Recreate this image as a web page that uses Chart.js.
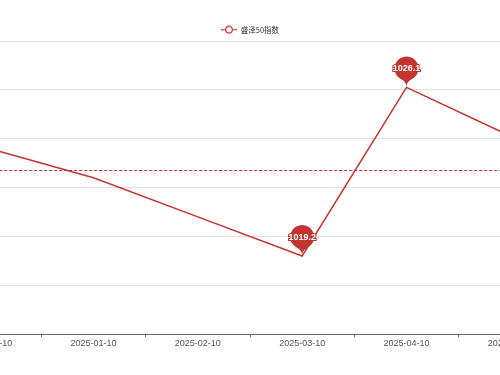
<!DOCTYPE html>
<html>
<head>
<meta charset="utf-8">
<script src="https://cdn.jsdelivr.net/npm/chart.js@4"></script>
<style>
  body { margin: 0; background: #fff; }
  #wrap { position: relative; width: 500px; height: 375px; overflow: hidden; }
  #box { position: absolute; left: -63px; top: 0; width: 626px; height: 375px; }
</style>
</head>
<body>
<div id="wrap"><div id="box"><canvas id="myChart"></canvas></div></div>
<script>
// data
var dates = ['2024-12-10', '2025-01-10', '2025-02-10', '2025-03-10', '2025-04-10', '2025-05-10'];
var values = [1023.6, 1022.4, 1020.8, 1019.2, 1026.1, 1024.1];
var seriesName = '盛泽50指数';
var yMin = 1016, yMax = 1028, yStep = 2;

var red = '#c23531';

// legend icon: line with hollow circle
var icon = document.createElement('canvas');
icon.width = 16; icon.height = 9;
var ic = icon.getContext('2d');
ic.strokeStyle = red;
ic.lineWidth = 1.2;
ic.beginPath(); ic.moveTo(0, 4.5); ic.lineTo(16, 4.5); ic.stroke();
ic.fillStyle = '#fff';
ic.beginPath(); ic.arc(8, 4.5, 3.3, 0, Math.PI * 2); ic.fill(); ic.stroke();

function drawPin(ctx, x, y, text) {
    // echarts-like pin, tip at (x, y)
    var r = 12, h = 36.8;
    var dy = r * r / (h - r);
    var cy = y - h + r + dy;
    var angle = Math.asin(dy / r);
    var dx = Math.cos(angle) * r;
    var tanX = Math.sin(angle), tanY = Math.cos(angle);
    var cpLen = r * 0.6, cpLen2 = r * 0.7;
    ctx.save();
    ctx.beginPath();
    ctx.moveTo(x - dx, cy + dy);
    ctx.arc(x, cy, r, Math.PI - angle, Math.PI * 2 + angle);
    ctx.bezierCurveTo(x + dx - tanX * cpLen, cy + dy + tanY * cpLen, x, y - cpLen2, x, y);
    ctx.bezierCurveTo(x, y - cpLen2, x - dx + tanX * cpLen, cy + dy + tanY * cpLen, x - dx, cy + dy);
    ctx.closePath();
    ctx.fillStyle = red;
    ctx.fill();
    ctx.font = 'bold 9px "Liberation Sans", sans-serif';
    ctx.textAlign = 'center';
    ctx.textBaseline = 'middle';
    ctx.lineWidth = 2;
    ctx.strokeStyle = red;
    ctx.strokeText(text, x, cy);
    ctx.fillStyle = '#fff';
    ctx.fillText(text, x, cy);
    ctx.restore();
}

var markPlugin = {
    id: 'marks',
    beforeLayout: function (chart) {
        // legend box is a bit taller than in the original, trim it
        var lg = chart.legend;
        if (lg && !lg._trimmed) {
            var fit = lg.fit;
            lg.fit = function () { fit.call(this); this.height -= 2.5; };
            lg._trimmed = true;
        }
    },
    afterDatasetsDraw: function (chart) {
        var ctx = chart.ctx;
        var meta = chart.getDatasetMeta(0);
        var ys = chart.scales.y;
        var data = chart.data.datasets[0].data;

        // average line
        var sum = 0;
        for (var i = 0; i < data.length; i++) sum += data[i];
        var avgY = ys.getPixelForValue(sum / data.length);
        ctx.save();
        ctx.strokeStyle = red;
        ctx.lineWidth = 1;
        ctx.setLineDash([3, 2]);
        ctx.beginPath();
        ctx.moveTo(meta.data[0].x, avgY);
        ctx.lineTo(meta.data[data.length - 1].x, avgY);
        ctx.stroke();
        ctx.restore();

        // max / min pins
        var maxI = 0, minI = 0;
        for (var j = 1; j < data.length; j++) {
            if (data[j] > data[maxI]) maxI = j;
            if (data[j] < data[minI]) minI = j;
        }
        drawPin(ctx, meta.data[maxI].x, meta.data[maxI].y, data[maxI].toFixed(1));
        drawPin(ctx, meta.data[minI].x, meta.data[minI].y, data[minI].toFixed(1));
    }
};

var ctx = document.getElementById('myChart').getContext('2d');
var myChart = new Chart(ctx, {
    type: 'line',
    data: {
        labels: dates,
        datasets: [{
            label: seriesName,
            data: values,
            borderColor: red,
            backgroundColor: '#fff',
            borderWidth: 1.5,
            pointRadius: 0,
            pointHoverRadius: 0,
            tension: 0
        }]
    },
    options: {
        responsive: true,
        maintainAspectRatio: false,
        animation: false,
        layout: {
            padding: { top: 22.5, bottom: 25, left: 0, right: 0 }
        },
        plugins: {
            tooltip: { enabled: false },
            legend: {
                position: 'top',
                labels: {
                    usePointStyle: true,
                    pointStyle: icon,
                    pointStyleWidth: 16,
                    padding: 3.5,
                    color: '#333',
                    font: { family: '"Noto Sans CJK SC", sans-serif', size: 7.5 }
                }
            }
        },
        scales: {
            x: {
                offset: true,
                grid: {
                    offset: true,
                    drawOnChartArea: false,
                    drawTicks: true,
                    tickLength: 3,
                    color: '#666'
                },
                border: { color: '#666', width: 1 },
                ticks: {
                    padding: 1,
                    color: '#555',
                    maxRotation: 0,
                    autoSkip: false,
                    font: { family: '"Liberation Sans", sans-serif', size: 9 }
                }
            },
            y: {
                min: yMin,
                max: yMax,
                ticks: { display: false, stepSize: yStep },
                border: { display: false },
                grid: { color: '#e0e0e0', drawTicks: false }
            }
        }
    },
    plugins: [markPlugin]
});
</script>
</body>
</html>
